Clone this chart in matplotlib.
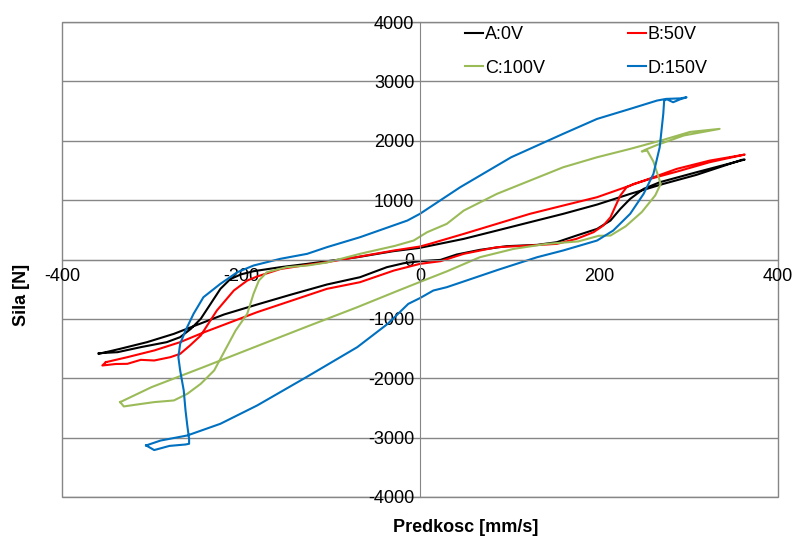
import matplotlib
matplotlib.use("Agg")
import matplotlib.pyplot as plt
from matplotlib.patches import Rectangle

plt.rcParams['font.family'] = ['Liberation Sans', 'DejaVu Sans']
plt.rcParams['axes.unicode_minus'] = False

# A:0V  (velocity mm/s, force N)
a_x = [-359, -335, -305, -275, -249, -219, -182, -145, -104, -67, -37, -18, 0, 23, 41, 67, 97, 131, 153, 175,
       198, 213, 224, 235, 250, 268, 309, 363, 360, 309, 272, 235, 198, 160, 123, 86, 49, 0, -30, -70,
       -126, -156, -186, -200, -212, -223, -234, -245, -256, -268, -283, -312, -338, -359]
a_y = [-1589, -1504, -1392, -1252, -1100, -926, -758, -595, -421, -298, -129, -62, -28, -6, 84, 163, 225, 247, 292, 404,
       516, 657, 853, 1022, 1190, 1302, 1470, 1684, 1680, 1426, 1274, 1106, 926, 769, 629, 488, 348, 197, 140, 39,
       -73, -129, -197, -250, -330, -494, -747, -999, -1167, -1308, -1392, -1476, -1561, -1578]

# B:50V
b_x = [-351, -327, -297, -268, -242, -182, -104, -67, -29, 0, 23, 49, 86, 123, 153, 175, 194, 205, 213, 218,
       224, 231, 239, 260, 287, 324, 363, 324, 287, 235, 198, 160, 123, 86, 49, 11, 0, -29, -67, -104,
       -126, -156, -182, -193, -208, -227, -245, -257, -268, -279, -297, -312, -327, -340, -355, -351]
b_y = [-1729, -1645, -1532, -1392, -1230, -887, -494, -382, -185, -73, -28, 96, 208, 236, 264, 348, 460, 573, 712, 881,
       1078, 1218, 1274, 1370, 1480, 1640, 1768, 1667, 1527, 1246, 1050, 909, 770, 601, 432, 264, 219, 152, 51, -45,
       -90, -160, -286, -354, -522, -859, -1280, -1448, -1589, -1645, -1701, -1690, -1757, -1760, -1785, -1729]

# C:100V
c_x = [-335, -300, -242, -185, -128, -70, -24, 4, 30, 67, 105, 142, 177, 200, 213, 230, 248, 263, 269, 268,
       261, 254, 248, 252, 265, 295, 335, 302, 272, 235, 198, 160, 123, 86, 49, 30, 8, -7, -28, -67,
       -104, -126, -149, -171, -180, -186, -193, -206, -216, -230, -245, -260, -275, -297, -315, -331, -335]
c_y = [-2402, -2150, -1813, -1476, -1140, -803, -522, -354, -200, 39, 180, 264, 305, 400, 404, 560, 800, 1080, 1270, 1330,
       1650, 1836, 1820, 1850, 1930, 2090, 2201, 2150, 2016, 1864, 1723, 1554, 1330, 1106, 825, 601, 460, 320, 230, 96,
       -50, -101, -129, -213, -354, -578, -914, -1196, -1476, -1869, -2094, -2262, -2374, -2402, -2440, -2475, -2402]

# D:150V
d_x = [-306, -290, -260, -223, -182, -127, -70, -36, -13, 0, 15, 30, 52, 88, 131, 160, 198, 216, 235, 250,
       261, 268, 272, 273, 276, 283, 291, 298, 291, 275, 265, 235, 198, 160, 102, 45, 0, -14, -67, -104,
       -126, -156, -186, -204, -223, -242, -253, -262, -268, -270, -268, -264, -262, -260, -258, -258, -262, -280, -297, -306]
d_y = [-3132, -3050, -2964, -2767, -2459, -1982, -1476, -1083, -747, -650, -522, -466, -354, -170, 39, 152, 320, 488, 770, 1106,
       1443, 1891, 2453, 2678, 2700, 2650, 2700, 2733, 2715, 2706, 2678, 2538, 2369, 2117, 1723, 1218, 770, 657, 376, 208,
       96, 12, -101, -213, -409, -635, -914, -1196, -1420, -1645, -1869, -2206, -2543, -2800, -3020, -3104, -3116, -3140, -3210, -3132]

labels = ["A:0V", "B:50V", "C:100V", "D:150V"]
colors = ["#000000", "#FF0000", "#9BBB59", "#0070C0"]
x_ticks = [-400, -200, 0, 200, 400]
y_ticks = [-4000, -3000, -2000, -1000, 0, 1000, 2000, 3000, 4000]

fig = plt.figure(figsize=(8.06, 5.39), dpi=100)
ax = fig.add_axes([0.077, 0.078, 0.888, 0.881])

series = [(a_x, a_y), (b_x, b_y), (c_x, c_y), (d_x, d_y)]
lines = []
for (xs, ys), lab, col in zip(series, labels, colors):
    ln, = ax.plot(xs, ys, color=col, lw=1.5, label=lab)
    lines.append(ln)

ax.set_xlim(-400, 400)
ax.set_ylim(-4000, 4000)
ax.set_xticks(x_ticks)
ax.set_yticks(y_ticks)

grid_col = "#868686"
ax.grid(axis="y", color=grid_col, lw=1)
ax.set_axisbelow(True)

# axes cross at zero, outer frame drawn separately
ax.spines["left"].set_position("zero")
ax.spines["bottom"].set_position("zero")
ax.spines["left"].set_color(grid_col)
ax.spines["bottom"].set_color(grid_col)
ax.spines["right"].set_visible(False)
ax.spines["top"].set_visible(False)
ax.add_patch(Rectangle((0, 0), 1, 1, transform=ax.transAxes, fill=False,
                       edgecolor=grid_col, lw=1, clip_on=False, zorder=0))

ax.tick_params(axis="both", length=0, labelsize=13, colors="#000000")
ax.tick_params(axis="x", pad=6)
ax.tick_params(axis="y", pad=4)

ax.set_xlabel("Predkosc [mm/s]", fontsize=13, fontweight="bold")
ax.set_ylabel("Sila [N]", fontsize=13, fontweight="bold")
ax.xaxis.set_label_coords(0.564, -0.046)
ax.yaxis.set_label_coords(-0.045, 0.425)

# row-wise order: A B / C D
order = [0, 2, 1, 3]
ax.legend([lines[i] for i in order], [labels[i] for i in order],
          loc="upper left", bbox_to_anchor=(0.54, 1.025), ncol=2, frameon=False,
          fontsize=13, handlelength=1.0, handletextpad=0.1, columnspacing=4.6,
          labelspacing=0.9)

fig.savefig("out.png", dpi=100)
